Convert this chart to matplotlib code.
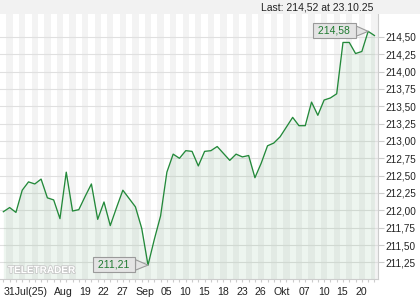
import matplotlib.pyplot as plt
import matplotlib.patheffects as pe
from matplotlib.patches import Rectangle
import numpy as np
import pandas as pd

plt.rcParams["font.family"] = ["Liberation Sans", "DejaVu Sans"]

# daily closes, 01.08.2025 - 23.10.2025
closes = [
    211.98, 212.04, 211.97, 212.29, 212.41, 212.38, 212.45, 212.18, 212.15, 211.88,
    212.55, 211.99, 212.01, 212.20, 212.38, 211.87, 212.12, 211.78, 212.04, 212.29,
    212.17, 212.05, 211.74, 211.21, 211.58, 211.92, 212.55, 212.81, 212.75, 212.86,
    212.85, 212.64, 212.85, 212.86, 212.92, 212.82, 212.72, 212.81, 212.77, 212.79,
    212.47, 212.68, 212.93, 212.97, 213.06, 213.20, 213.34, 213.22, 213.22, 213.56,
    213.37, 213.59, 213.62, 213.68, 214.42, 214.42, 214.26, 214.29, 214.58, 214.52,
]
dates = pd.bdate_range("2025-08-01", "2025-10-23")

tick_days = [
    "2025-08-01", "2025-08-13", "2025-08-19", "2025-08-22", "2025-08-27",
    "2025-09-01", "2025-09-05", "2025-09-10", "2025-09-15", "2025-09-18",
    "2025-09-23", "2025-09-26", "2025-10-01", "2025-10-07", "2025-10-10",
    "2025-10-15", "2025-10-20",
]
tick_labels = [
    "31Jul(25)", "Aug", "19", "22", "27", "Sep", "05", "10", "15", "18",
    "23", "26", "Okt", "07", "10", "15", "20",
]
y_ticks = [211.25, 211.50, 211.75, 212.00, 212.25, 212.50, 212.75,
           213.00, 213.25, 213.50, 213.75, 214.00, 214.25, 214.50]
last_price = "214,52"
last_date = "23.10.25"

GREEN = "#23893a"
y_lo, y_hi = 211.01, 214.83


def main():
    fig = plt.figure(figsize=(4.2, 3.0), dpi=100)
    fig.patch.set_facecolor("white")
    fig.patches.append(Rectangle((0, 1 - 14 / 300), 1, 14 / 300,
                                 transform=fig.transFigure,
                                 fc="#f2f2f2", ec="none", zorder=0))

    ax = fig.add_axes([0.0005, 0.07, 0.8985, 0.8833])
    ax.set_facecolor("white")

    x = np.arange(len(closes))
    # alternating day stripes
    for i in x[1::2]:
        ax.axvspan(i - 0.5, i + 0.5, color="#f3f3f3", lw=0, zorder=0)

    ax.fill_between(x, closes, y_lo, color=GREEN, alpha=0.08, lw=0, zorder=2)
    ax.plot(x, closes, color=GREEN, lw=0.95, zorder=4)

    ax.set_xlim(-0.5, len(closes) - 0.5)
    ax.set_ylim(y_lo, y_hi)

    ax.set_axisbelow(True)
    ax.yaxis.tick_right()
    ax.set_yticks(y_ticks)
    ax.set_yticklabels([f"{v:.2f}".replace(".", ",") for v in y_ticks])
    ax.yaxis.grid(True, color="#e0e0e0", lw=0.8)
    ax.tick_params(axis="y", length=4, width=0.8, color="#cccccc", pad=1.5,
                   labelsize=7.2, labelcolor="#222222")

    pos = dates.get_indexer(pd.to_datetime(tick_days))
    ax.set_xticks(pos)
    ax.set_xticklabels(tick_labels)
    ax.set_xticks(x, minor=True)
    for lbl in ax.get_xticklabels():
        lbl.set_ha("left")
    ax.tick_params(axis="x", which="both", length=2.5, width=0.8,
                   color="#cccccc", labelsize=7.6, labelcolor="#222222", pad=3)

    for side in ("top", "left"):
        ax.spines[side].set_visible(False)
    for side in ("bottom", "right"):
        ax.spines[side].set_color("#cccccc")
        ax.spines[side].set_linewidth(0.8)

    # max / min callouts
    i_max = int(np.argmax(closes))
    i_min = int(np.argmin(closes))
    for i in (i_max, i_min):
        ax.annotate(
            " " + f"{closes[i]:.2f}".replace(".", ",") + " ",
            xy=(i, closes[i]), xytext=(-34, 0.5), textcoords="offset pixels",
            ha="center", va="center", fontsize=7.5, color="#1f7a30",
            bbox=dict(boxstyle="square,pad=0.24", fc="#e4e4e4", ec="#9a9a9a", lw=0.8),
            arrowprops=dict(arrowstyle="wedge,tail_width=1.0", fc="#e4e4e4",
                            ec="#9a9a9a", lw=0.8, shrinkA=0, shrinkB=0),
            zorder=6, annotation_clip=False,
        )

    fig.text(373 / 420, 1 - 7 / 300, f"Last: {last_price} at {last_date}",
             ha="right", va="center", fontsize=7.5, color="#222222")

    fig.text(8 / 420, 1 - 270 / 300, "TELETRADER", ha="left", va="center",
             fontsize=7.2, fontweight="bold", color="white",
             path_effects=[pe.withStroke(linewidth=1.2, foreground="#c8c8c8")])

    fig.savefig("out.png", dpi=100)


main()
